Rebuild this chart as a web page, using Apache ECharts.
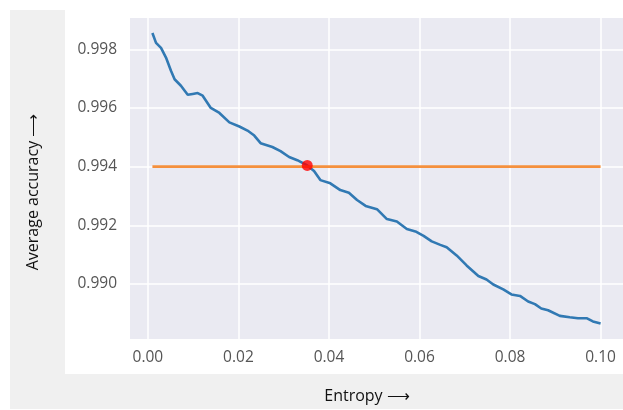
<!DOCTYPE html>
<html>
<head>
<meta charset="utf-8">
<script src="https://cdn.jsdelivr.net/npm/echarts@6/dist/echarts.min.js"></script>
<style>
  html, body { margin: 0; padding: 0; background: #fff; }
  #chart { width: 623px; height: 410px; }
</style>
</head>
<body>
<div id="chart"></div>
<script>
// entropy threshold (x) and average accuracy (y)
const entropy = [
  0.001, 0.0018, 0.0029, 0.0040, 0.0051, 0.0059, 0.0073, 0.0088, 0.0099, 0.0110,
  0.0121, 0.0139, 0.0158, 0.0180, 0.0202, 0.0220, 0.0235, 0.0249, 0.0275, 0.0293,
  0.0312, 0.0330, 0.0352, 0.0367, 0.0381, 0.0403, 0.0425, 0.0444, 0.0462, 0.0481,
  0.0506, 0.0528, 0.0550, 0.0572, 0.0591, 0.0609, 0.0627, 0.0646, 0.0660, 0.0682,
  0.0704, 0.0730, 0.0748, 0.0763, 0.0785, 0.0803, 0.0822, 0.0840, 0.0855, 0.0869,
  0.0884, 0.0910, 0.0932, 0.0950, 0.0969, 0.0983, 0.1000
];
const accuracy = [
  0.99856, 0.99822, 0.99805, 0.99772, 0.99727, 0.99698, 0.99676, 0.99645, 0.99648, 0.99651,
  0.99642, 0.99600, 0.99583, 0.99551, 0.99537, 0.99523, 0.99506, 0.99480, 0.99467, 0.99453,
  0.99433, 0.99422, 0.99404, 0.99385, 0.99354, 0.99343, 0.99320, 0.99311, 0.99286, 0.99266,
  0.99255, 0.99221, 0.99213, 0.99187, 0.99179, 0.99164, 0.99145, 0.99133, 0.99125, 0.99097,
  0.99063, 0.99027, 0.99015, 0.98998, 0.98981, 0.98964, 0.98959, 0.98940, 0.98931, 0.98916,
  0.98910, 0.98891, 0.98886, 0.98883, 0.98883, 0.98872, 0.98865
];
// target accuracy line and the crossing point
const targetX = [0.001, 0.1];
const targetY = [0.994, 0.994];
const crossPoint = [0.0352, 0.99404];

const xTicks = [0.00, 0.02, 0.04, 0.06, 0.08, 0.10];
const yTicks = [0.990, 0.992, 0.994, 0.996, 0.998];

const chart = echarts.init(document.getElementById('chart'));
const font = '"Open Sans", "Noto Sans", sans-serif';

const option = {
  animation: false,
  backgroundColor: '#fff',
  graphic: [
    { type: 'rect', z: -10, shape: { x: 10, y: 10, width: 613, height: 399 }, style: { fill: '#f0f0f0' } },
    { type: 'rect', z: -9, shape: { x: 65, y: 0, width: 558, height: 374 }, style: { fill: '#ffffff' } },
    // axis titles (sit a bit off the plot centre in the original)
    {
      type: 'text', x: 367, y: 396,
      style: { text: 'Entropy ⟶', fill: '#111', font: '16px ' + font, align: 'center', verticalAlign: 'middle' }
    },
    {
      type: 'text', x: 33, y: 192, rotation: Math.PI / 2,
      style: { text: 'Average accuracy ⟶', fill: '#111', font: '16px ' + font, align: 'center', verticalAlign: 'middle' }
    }
  ],
  grid: {
    left: 130, right: 0, top: 18, bottom: 71,
    show: true, backgroundColor: '#eaeaf2', borderWidth: 0
  },
  xAxis: {
    type: 'value',
    min: -0.00395, max: 0.10495,
    axisLine: { show: false },
    axisTick: { show: false, customValues: xTicks },
    axisLabel: {
      customValues: xTicks,
      color: '#555', fontSize: 15.5, fontFamily: font, margin: 11,
      formatter: v => v.toFixed(2)
    },
    splitLine: { show: true, lineStyle: { color: '#fff', width: 1.5 } }
  },
  yAxis: {
    type: 'value',
    min: 0.98812, max: 0.99907,
    axisLine: { show: false },
    axisTick: { show: false, customValues: yTicks },
    axisLabel: {
      customValues: yTicks,
      color: '#555', fontSize: 15.5, fontFamily: font, margin: 13,
      formatter: v => v.toFixed(3)
    },
    splitLine: { show: true, lineStyle: { color: '#fff', width: 1.5 } }
  },
  series: [
    {
      type: 'line',
      data: entropy.map((x, i) => [x, accuracy[i]]),
      showSymbol: false,
      lineStyle: { color: '#3179b3', width: 2.6 },
      z: 2
    },
    {
      type: 'line',
      data: targetX.map((x, i) => [x, targetY[i]]),
      showSymbol: false,
      lineStyle: { color: '#f5903d', width: 2.6 },
      z: 3
    },
    {
      type: 'scatter',
      data: [crossPoint],
      symbolSize: 11,
      itemStyle: { color: '#ff0000' },
      z: 4
    }
  ]
};
chart.setOption(option);
</script>
</body>
</html>
